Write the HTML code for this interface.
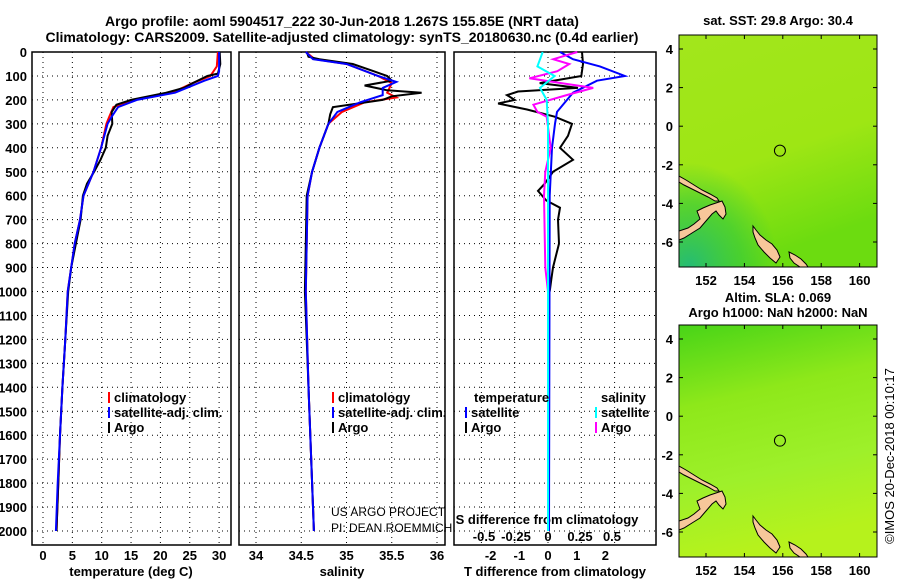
<!DOCTYPE html>
<html><head><meta charset="utf-8"><style>
body{margin:0;background:#fff;}
svg{display:block;font-family:"Liberation Sans",sans-serif;}
</style></head><body>
<svg id="s" width="900" height="580" viewBox="0 0 900 580" xmlns="http://www.w3.org/2000/svg">
<defs>
<linearGradient id="g1" x1="0" y1="0" x2="0.3" y2="1"><stop offset="0" stop-color="#a2e61c"/><stop offset="0.6" stop-color="#9ee614"/><stop offset="1" stop-color="#6cdc10"/></linearGradient>
<radialGradient id="g1b" cx="0.05" cy="1" r="0.45"><stop offset="0" stop-color="#1cb880" stop-opacity="0.9"/><stop offset="0.6" stop-color="#30c840" stop-opacity="0.6"/><stop offset="1" stop-color="#30c840" stop-opacity="0"/></radialGradient>
<linearGradient id="g2" x1="0" y1="0" x2="0.2" y2="1"><stop offset="0" stop-color="#48d418"/><stop offset="0.35" stop-color="#8ee81a"/><stop offset="0.7" stop-color="#9ef02a"/><stop offset="1" stop-color="#b6f21c"/></linearGradient>
<clipPath id="cm1"><rect x="679" y="35" width="198" height="232"/></clipPath>
<clipPath id="cm2"><rect x="679" y="325" width="198" height="232"/></clipPath>
</defs>
<text font-weight="bold" x="342" y="26" font-size="14" text-anchor="middle">Argo profile: aoml 5904517_222 30-Jun-2018 1.267S 155.85E (NRT data)</text>
<text font-weight="bold" x="342" y="42" font-size="14" text-anchor="middle">Climatology: CARS2009. Satellite-adjusted climatology: synTS_20180630.nc (0.4d earlier)</text>
<g id="panels"></g>
<g id="maps"></g>
</svg>
<script>
// ---- data ----
const tArgoDepth=[0,50,90,100,130,150,170,190,200,220,250,300,350,400,450,500,550,600,700,800,900,1000,1200,1400,1600,1800,2000];
const tArgo=[30.1,30.2,29.8,28,25.5,24,21,17,15,12.5,11.7,11.8,11,10.7,9.8,8.7,7.5,6.8,6.4,5.6,4.8,4.3,3.8,3.3,2.9,2.6,2.3];
const tClimDepth=[0,60,100,130,170,200,230,270,300,400,500,600,700,800,900,1000,1200,1400,1600,1800,2000];
const tClim=[29.8,29.6,28.5,25.5,22,15.5,12,11.3,10.8,9.9,8.6,6.9,6.3,5.4,4.8,4.2,3.8,3.3,2.9,2.6,2.3];
const tSatDepth=[0,80,100,120,170,200,230,270,300,400,500,600,700,800,900,1000,1200,1400,1600,1800,2000];
const tSat=[30,30,29.8,27.5,22.5,16,12.8,11.7,11,9.9,8.6,6.9,6.3,5.4,4.8,4.2,3.8,3.3,2.9,2.5,2.2];
const sArgoDepth=[0,20,30,50,80,100,120,140,160,170,185,200,230,260,300,400,500,600,800,1000,1400,2000];
const sArgo=[34.56,34.58,34.7,35.07,35.3,35.45,35.5,35.2,35.45,35.83,35.5,35.4,34.85,34.82,34.8,34.7,34.62,34.56,34.55,34.54,34.58,34.64];
const sClimDepth=[0,30,50,100,130,170,190,210,250,300,400,500,600,800,1000,1400,2000];
const sClim=[34.55,34.65,35.0,35.35,35.5,35.45,35.55,35.2,34.95,34.8,34.7,34.62,34.57,34.56,34.55,34.58,34.64];
const sSatDepth=[0,30,50,100,125,150,180,210,250,300,400,500,600,800,1000,1400,2000];
const sSat=[34.55,34.63,35.0,35.35,35.55,35.4,35.4,35.15,34.9,34.8,34.7,34.62,34.57,34.56,34.55,34.58,34.64];
const dtArgoDepth=[0,50,100,130,150,165,180,200,215,240,270,300,350,400,450,500,550,580,620,650,700,800,900,950,1000];
const dtArgo=[1.02,1.05,1.0,-0.25,0.9,-0.9,-1.23,-1.0,-1.5,-0.63,0.2,0.72,0.6,0.36,0.75,0.15,-0.1,-0.3,-0.05,0.36,0.3,0.33,0.15,0.1,0.05];
const dtSatDepth=[0,30,60,100,120,170,200,250,300,400,600,2000];
const dtSat=[0.36,0.75,1.56,2.31,1.47,0.75,0.57,0.27,0.21,0.12,0.05,0.03];
const dsArgoDepth=[0,30,50,80,110,130,150,180,220,250,270,400,500,600,900,1000];
const dsArgo=[0.22,0.04,0.16,0.07,-0.14,0.1,0.34,0.14,-0.11,-0.08,-0.01,0.02,-0.02,-0.03,-0.02,0];
const dsSatDepth=[0,60,100,150,200,300,2000];
const dsSat=[-0.04,-0.08,0.05,-0.06,-0.01,0,0];
const depthTicks=[0,100,200,300,400,500,600,700,800,900,1000,1100,1200,1300,1400,1500,1600,1700,1800,1900,2000];
const tTicks=[0,5,10,15,20,25,30];
const sTicks=[34,34.5,35,35.5,36];
const dtTicks=[-2,-1,0,1,2];
const dtGrid=[-2,-1,0,1,2];
const dsTicks=[-0.5,-0.25,0,0.25,0.5];
const dsTickLabels=['-0.5','-0.25','0','0.25','0.5'];
const latTicks=[4,2,0,-2,-4,-6];
const lonTicks=[152,154,156,158,160];

// ---- axes ----
const Y=d=>52+d*0.2395;
const TX=v=>43+v*5.87;
const SX=v=>256+(v-34)*90.5;
const DX=v=>548+v*33.3;
const DXL=v=>548+v*28.7;
const DSX=v=>548+v*133;
const DSXL=v=>548+v*128;
const LON=v=>706+(v-152)*19.2;
const LAT=(v,top)=>top+14+(4-v)*19.3;
const NS='http://www.w3.org/2000/svg';
const P=document.getElementById('panels');
function mk(tag,attrs,parent,text){const e=document.createElementNS(NS,tag);for(const k in attrs)e.setAttribute(k,attrs[k]);if(text!==undefined)e.textContent=text;(parent||P).appendChild(e);return e;}
function line(xs,ds,fx,color,name){
  const pts=xs.map((v,i)=>fx(v).toFixed(1)+','+Y(ds[i]).toFixed(1)).join(' ');
  const e=mk('polyline',{points:pts,fill:'none',stroke:color,'stroke-width':2});
  
  
}
const panels=[[32,231],[239,445],[454,656]];
panels.forEach((p,i)=>{
  const g=mk('g',{});
  
  
  depthTicks.forEach(d=>{const e=mk('line',{x1:p[0],x2:p[1],y1:Y(d),y2:Y(d),stroke:'#000','stroke-dasharray':'1,4'},g);
    });
  const vt=i==0?tTicks.map(TX):i==1?sTicks.map(SX):dtGrid.map(DX);
  vt.forEach(x=>{const e=mk('line',{x1:x,x2:x,y1:52,y2:545,stroke:'#000','stroke-dasharray':'1,4'},g);
    });
  const r=mk('rect',{x:p[0],y:52,width:p[1]-p[0],height:493,fill:'none',stroke:'#000','stroke-width':1.5},g);
  
});
depthTicks.forEach(d=>{const e=mk('text',{x:27,y:Y(d)+5,'font-size':13,'font-weight':'bold','text-anchor':'end'},P,String(d));
  });
tTicks.forEach(v=>{const e=mk('text',{x:TX(v),y:560,'font-size':13,'font-weight':'bold','text-anchor':'middle'},P,String(v));
  });
sTicks.forEach(v=>{const e=mk('text',{x:SX(v),y:560,'font-size':13,'font-weight':'bold','text-anchor':'middle'},P,String(v));
  });
dtTicks.forEach(v=>{const e=mk('text',{x:DXL(v),y:560,'font-size':13,'font-weight':'bold','text-anchor':'middle'},P,String(v));
  });
dsTicks.forEach((v,i)=>{const e=mk('text',{x:DSXL(v),y:541,'font-size':13,'font-weight':'bold','text-anchor':'middle'},P,dsTickLabels[i]);
  });
[['temperature (deg C)',131,'temperature-axis-title'],['salinity',342,'salinity-axis-title'],['T difference from climatology',555,'t-diff-axis-title']].forEach(a=>{
  const e=mk('text',{x:a[1],y:576,'font-size':13,'font-weight':'bold','text-anchor':'middle'},P,a[0]);
  });
{const e=mk('text',{x:547,y:524,'font-size':13,'font-weight':'bold','text-anchor':'middle'},P,'S difference from climatology');
  }

line(tClim,tClimDepth,TX,'#f00','temp-climatology-line');
line(tArgo,tArgoDepth,TX,'#000','temp-argo-line');
line(tSat,tSatDepth,TX,'#00f','temp-satellite-line');
line(sClim,sClimDepth,SX,'#f00','sal-climatology-line');
line(sArgo,sArgoDepth,SX,'#000','sal-argo-line');
line(sSat,sSatDepth,SX,'#00f','sal-satellite-line');
line(dtArgo,dtArgoDepth,DX,'#000','tdiff-argo-line');
line(dtSat,dtSatDepth,DX,'#00f','tdiff-satellite-line');
line(dsArgo,dsArgoDepth,DSX,'#f0f','sdiff-argo-line');
line(dsSat,dsSatDepth,DSX,'#0ff','sdiff-satellite-line');

function legend(x,y,color,label,name){
  const e=mk('line',{x1:x,x2:x,y1:y-10,y2:y+1,stroke:color,'stroke-width':2});
  
  const t=mk('text',{x:x+5,y:y,'font-size':13,'font-weight':'bold'},P,label);
  
}
legend(109,402,'#f00','climatology','temp-legend-climatology');
legend(109,417,'#00f','satellite-adj. clim.','temp-legend-satellite');
legend(109,432,'#000','Argo','temp-legend-argo');
legend(333,402,'#f00','climatology','sal-legend-climatology');
legend(333,417,'#00f','satellite-adj. clim.','sal-legend-satellite');
legend(333,432,'#000','Argo','sal-legend-argo');
{const t=mk('text',{x:474,y:402,'font-size':13,'font-weight':'bold'},P,'temperature');
 const u=mk('text',{x:601,y:402,'font-size':13,'font-weight':'bold'},P,'salinity');}
legend(466,417,'#00f','satellite','diff-legend-t-satellite');
legend(466,432,'#000','Argo','diff-legend-t-argo');
legend(596,417,'#0ff','satellite','diff-legend-s-satellite');
legend(596,432,'#f0f','Argo','diff-legend-s-argo');
{const a=mk('text',{x:331,y:516,'font-size':12},P,'US ARGO PROJECT');
 const b=mk('text',{x:331,y:532,'font-size':12},P,'PI: DEAN ROEMMICH');}

// ---- maps ----
const M=document.getElementById('maps');
function land(top,g){
  const o=top-35;
  const sh=pts=>pts.map(p=>p[0]+','+(p[1]+o)).join(' ');
  const polys=[
   [[679,231],[688,228],[694,224],[700,219],[697,211],[703,208],[710,205],[716,203],[722,201],[725,207],[726,214],[723,219],[719,215],[716,211],[712,214],[706,221],[700,228],[692,233],[684,238],[679,240]],
   [[679,176],[686,180],[694,185],[702,190],[710,194],[717,198],[719,201],[715,201],[708,197],[700,193],[692,189],[684,185],[679,182]],
   [[753,226],[756,230],[760,235],[766,240],[772,244],[777,250],[780,257],[776,263],[770,258],[764,252],[758,245],[755,238],[753,232]],
   [[789,252],[795,255],[801,259],[806,264],[808,267],[800,267],[794,263],[790,258]]];
  polys.forEach(p=>{const e=mk('polygon',{points:sh(p),fill:'#f7c79a',stroke:'#000','stroke-width':1},g);
    });
}
function map(top,grad,n,titles,extra){
  const g=mk('g',{},M);
  
  const r=mk('rect',{x:679,y:top,width:198,height:232,fill:'url(#'+grad+')'},g);
  
  if(extra){const r2=mk('rect',{x:679,y:top,width:198,height:232,fill:'url(#'+extra+')'},g);
    }
  const c=mk('g',{'clip-path':'url(#cm'+(top==35?1:2)+')'},g);
  land(top,c);
  const f=mk('rect',{x:679,y:top,width:198,height:232,fill:'none',stroke:'#000'},g);
  
  latTicks.forEach(v=>{const y=LAT(v,top);
    mk('line',{x1:679,x2:683,y1:y,y2:y,stroke:'#000'},g);mk('line',{x1:873,x2:877,y1:y,y2:y,stroke:'#000'},g);
    const t=mk('text',{x:673,y:y+5,'font-size':13,'font-weight':'bold','text-anchor':'end'},g,String(v));
    });
  lonTicks.forEach(v=>{const x=LON(v);
    mk('line',{x1:x,x2:x,y1:top,y2:top+4,stroke:'#000'},g);mk('line',{x1:x,x2:x,y1:top+228,y2:top+232,stroke:'#000'},g);
    const t=mk('text',{x:x,y:top+250,'font-size':13,'font-weight':'bold','text-anchor':'middle'},g,String(v));
    });
  const ci=mk('circle',{cx:LON(155.85),cy:LAT(-1.267,top),r:5.5,fill:'none',stroke:'#000'},g);
  
  titles.forEach((t,i)=>{const e=mk('text',{x:778,y:t[1],'font-size':13,'font-weight':'bold','text-anchor':'middle'},g,t[0]);
    });
}
map(35,'g1','sst-map',[['sat. SST: 29.8 Argo: 30.4',25]],'g1b');
map(325,'g2','sla-map',[['Altim. SLA: 0.069',302],['Argo h1000: NaN h2000: NaN',317]]);
{const e=mk('text',{x:0,y:0,'font-size':13,'text-anchor':'middle',transform:'translate(894,456) rotate(-90)'},M,'©IMOS 20-Dec-2018 00:10:17');
 }
</script>
</body></html>
